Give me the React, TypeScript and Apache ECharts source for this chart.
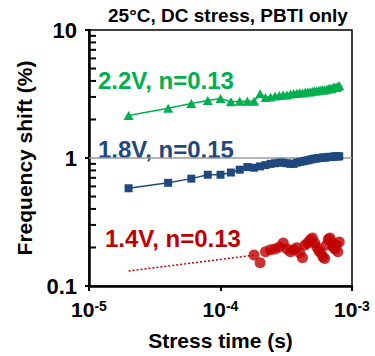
import React, { useEffect, useRef } from "react";
import * as echarts from "echarts";

const stressTime = [
  2e-5, 4e-5, 6e-5, 8e-5, 1.0e-4, 1.2e-4, 1.4e-4, 1.6e-4, 1.8e-4, 2.0e-4,
  2.2e-4, 2.4e-4, 2.6e-4, 2.8e-4, 3.0e-4, 3.2e-4, 3.4e-4, 3.6e-4, 3.8e-4, 4.0e-4,
  4.2e-4, 4.4e-4, 4.6e-4, 4.8e-4, 5.0e-4, 5.2e-4, 5.4e-4, 5.6e-4, 5.8e-4, 6.0e-4,
  6.2e-4, 6.4e-4, 6.6e-4, 6.8e-4, 7.0e-4, 7.2e-4, 7.4e-4, 7.6e-4, 7.8e-4, 8.0e-4,
];

const shift22V = [
  2.15, 2.45, 2.67, 2.81, 2.92, 2.75, 2.78, 2.78, 2.78, 3.17,
  2.97, 3.0, 3.05, 3.08, 3.12, 3.1, 3.16, 3.19, 3.2, 3.24,
  3.22, 3.27, 3.3, 3.28, 3.33, 3.35, 3.34, 3.38, 3.4, 3.42,
  3.4, 3.45, 3.47, 3.5, 3.48, 3.55, 3.58, 3.56, 3.62, 3.68,
];

const shift18V = [
  0.58, 0.64, 0.69, 0.74, 0.74, 0.77, 0.81, 0.85, 0.84, 0.86,
  0.88, 0.9, 0.91, 0.92, 0.92, 0.91, 0.9, 0.9, 0.92, 0.93,
  0.94, 0.95, 0.96, 0.97, 0.98, 0.99, 0.99, 1.0, 1.0, 1.01,
  1.01, 1.01, 1.02, 1.02, 1.02, 1.02, 1.03, 1.03, 1.03, 1.03,
];

// 1.4V data start at 1.8e-4 s (index 8 of stressTime)
const shift14VTime = stressTime.slice(8);
const shift14V = [
  0.175, 0.152, 0.185, 0.192, 0.195, 0.202, 0.217, 0.195, 0.185, 0.192,
  0.199, 0.182, 0.166, 0.209, 0.217, 0.229, 0.237, 0.217, 0.202, 0.188,
  0.182, 0.169, 0.164, 0.209, 0.232, 0.237, 0.221, 0.202, 0.195, 0.209,
  0.185, 0.221,
];

const fit14VTime = [2e-5, 1.8e-4];
const fit14V = [0.131, 0.174];

const xTickValues = [1e-5, 1e-4, 1e-3];
const xTickSup = ["-5", "-4", "-3"];
const yTickValues = [0.1, 1, 10];
const yTickLabels = ["0.1", "1", "10"];
const yMinorTicks = [0.2, 0.3, 0.4, 0.5, 0.6, 0.7, 0.8, 0.9, 2, 3, 4, 5, 6, 7, 8, 9];

const seriesLabels = ["2.2V, n=0.13", "1.8V, n=0.15", "1.4V, n=0.13"];
const title = "25°C, DC stress, PBTI only";
const xName = "Stress time (s)";
const yName = "Frequency shift (%)";

const GREEN = "#00B050";
const BLUE = "#1F497D";
const RED = "#C00000";
const FONT = "'Liberation Sans', Arial, sans-serif";

const zip = (xs: number[], ys: number[]) => ys.map((y, i) => [xs[i], y]);

export default function App() {
  const ref = useRef<HTMLDivElement>(null);
  useEffect(() => {
    if (!ref.current) return;
    const chart = echarts.init(ref.current, undefined, { renderer: "svg" });
    const textStyle = (color: string, size: number) => ({
      fill: color,
      fontSize: size,
      fontWeight: "bold",
      fontFamily: FONT,
    });
    chart.setOption({
      animation: false,
      grid: {
        left: 89,
        right: 23,
        top: 30,
        bottom: 63,
        show: true,
        borderColor: "#000",
        borderWidth: 1.5,
      },
      xAxis: {
        type: "log",
        logBase: 10,
        min: 1e-5,
        max: 1e-3,
        name: xName,
        nameLocation: "middle",
        nameGap: 44,
        nameTextStyle: { fontSize: 21, fontWeight: "bold", fontFamily: FONT, color: "#000" },
        axisLine: { lineStyle: { color: "#000", width: 2.5 } },
        axisTick: { inside: false, length: 5, lineStyle: { color: "#000", width: 2 } },
        splitLine: { show: false },
        axisLabel: {
          margin: 13,
          color: "#000",
          formatter: (v: number) => {
            let idx = 0;
            let best = Infinity;
            xTickValues.forEach((t, i) => {
              const d = Math.abs(Math.log10(t) - Math.log10(v));
              if (d < best) { best = d; idx = i; }
            });
            return `{b|10}{s|${xTickSup[idx]}}`;
          },
          rich: {
            b: { fontSize: 21, fontWeight: "bold", fontFamily: FONT, color: "#000" },
            s: { fontSize: 14, fontWeight: "bold", fontFamily: FONT, color: "#000", verticalAlign: "top" },
          },
        },
      },
      yAxis: {
        type: "log",
        logBase: 10,
        min: 0.1,
        max: 10,
        name: yName,
        nameLocation: "middle",
        nameGap: 54,
        nameTextStyle: { fontSize: 21, fontWeight: "bold", fontFamily: FONT, color: "#000" },
        axisLine: { lineStyle: { color: "#000", width: 2.5 } },
        axisTick: { inside: false, length: 4, lineStyle: { color: "#000", width: 2 } },
        splitLine: { show: false },
        axisLabel: {
          margin: 12,
          color: "#000",
          fontSize: 22,
          fontWeight: "bold",
          fontFamily: FONT,
          formatter: (v: number) => {
            let idx = 0;
            let best = Infinity;
            yTickValues.forEach((t, i) => {
              const d = Math.abs(Math.log10(t) - Math.log10(v));
              if (d < best) { best = d; idx = i; }
            });
            return yTickLabels[idx];
          },
        },
      },
      series: [
        {
          type: "custom",
          silent: true,
          clip: false,
          data: yMinorTicks.map((v) => [xTickValues[0], v]),
          renderItem: (_p: any, api: any) => {
            const pt = api.coord([api.value(0), api.value(1)]);
            return {
              type: "line",
              shape: { x1: pt[0], y1: pt[1], x2: pt[0] + 7, y2: pt[1] },
              style: { stroke: "#000", lineWidth: 2 },
            };
          },
          z: 5,
        },
        {
          type: "line",
          data: zip(stressTime, shift18V),
          symbol: "rect",
          symbolSize: 8,
          itemStyle: { color: BLUE },
          lineStyle: { color: BLUE, width: 1.5 },
          markLine: {
            silent: true,
            symbol: "none",
            label: { show: false },
            lineStyle: { color: "#9a9a9a", width: 1.5, type: "solid" },
            data: [{ yAxis: 1 }],
            z: 1,
          },
          z: 3,
        },
        {
          type: "line",
          data: zip(stressTime, shift22V),
          symbol: "triangle",
          symbolSize: [10, 9],
          itemStyle: { color: GREEN },
          lineStyle: { color: GREEN, width: 1.5 },
          z: 3,
        },
        {
          type: "line",
          data: zip(fit14VTime, fit14V),
          symbol: "none",
          lineStyle: { color: RED, width: 1.5, type: [2, 2] },
          z: 2,
        },
        {
          type: "scatter",
          data: zip(shift14VTime, shift14V),
          symbol: "circle",
          symbolSize: 11,
          itemStyle: { color: RED },
          z: 3,
        },
      ],
      graphic: [
        {
          type: "text",
          x: 228,
          y: 15,
          style: { ...textStyle("#000", 19), text: title, textAlign: "center", textVerticalAlign: "middle" },
        },
        {
          type: "text",
          x: 98,
          y: 80,
          style: { ...textStyle(GREEN, 24), text: seriesLabels[0], textAlign: "left", textVerticalAlign: "middle" },
        },
        {
          type: "text",
          x: 98,
          y: 149,
          style: { ...textStyle(BLUE, 24), text: seriesLabels[1], textAlign: "left", textVerticalAlign: "middle" },
        },
        {
          type: "text",
          x: 105,
          y: 238,
          style: { ...textStyle(RED, 24), text: seriesLabels[2], textAlign: "left", textVerticalAlign: "middle" },
        },
      ],
    });
    return () => chart.dispose();
  }, []);
  return (
    <div
      ref={ref}
      style={{ position: "fixed", left: 0, top: 0, width: 375, height: 356, background: "#fff" }}
    />
  );
}
